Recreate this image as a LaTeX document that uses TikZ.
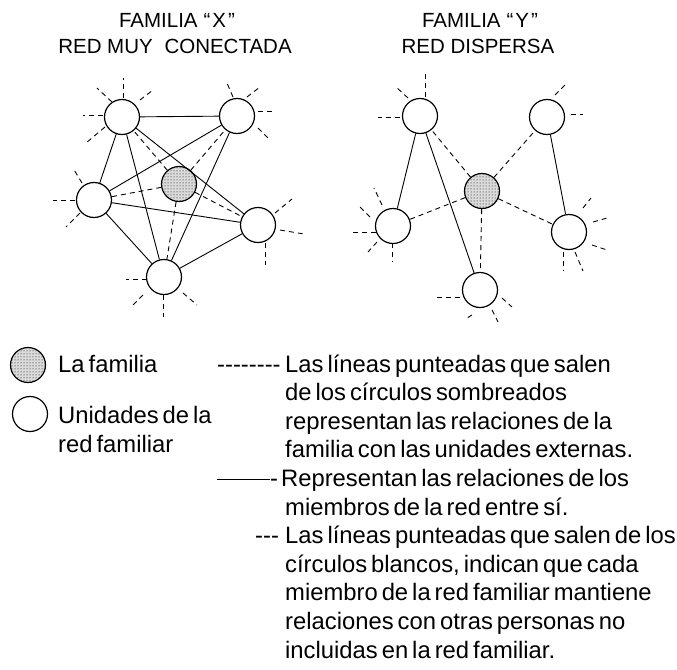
\documentclass[tikz,border=0pt]{standalone}
\usepackage{fontspec}
\setmainfont{Liberation Sans}[Ligatures=TeXOff]
\usetikzlibrary{calc,patterns}
\newcommand\legsize{\fontsize{23.8}{28.6}\selectfont\spaceskip=4pt plus 1pt minus 1pt\relax}
\newcommand\titsize{\fontsize{20.5}{24}\selectfont}
\newcommand\extstub[5]{\draw[extline] ($(#1)+(#2,#3)$) -- ($(#1)+(#4,#5)$);}
\begin{document}
\begin{tikzpicture}[x=1pt,y=-1pt,
  member/.style={circle,draw,line width=1.2pt,minimum size=35pt,inner sep=0pt},
  family/.style={circle,draw,line width=1.2pt,minimum size=35pt,inner sep=0pt,
    pattern=dots,pattern color=black,preaction={fill=gray!28}},
  tie/.style={line width=0.9pt},
  famline/.style={line width=0.9pt,dash pattern=on 5pt off 4pt},
  extline/.style={line width=0.9pt,dash pattern=on 5pt off 4pt},
  title/.style={font=\titsize,inner sep=0pt,anchor=base},
  leg/.style={font=\legsize,inner sep=0pt,anchor=base west}]
\useasboundingbox (0,0) rectangle (677,669);

% titles
\node[title] (tx1) at (177,28) {FAMILIA\hspace{6pt}“\kern2ptX\kern2pt”};
\node[title] (tx2) at (175,53) {RED MUY\hspace{6pt} CONECTADA};
\node[title] (ty1) at (480,28) {FAMILIA\hspace{6pt}“\kern2ptY\kern2pt”};
\node[title] (ty2) at (478,53) {RED DISPERSA};

% family X
\node[member] (xa) at (122,117) {};
\node[member] (xb) at (237,116) {};
\node[member] (xc) at (94,200) {};
\node[family] (xd) at (179,184) {};
\node[member] (xe) at (258,225) {};
\node[member] (xf) at (164,277) {};

\draw[tie] (xa) -- (xb);
\draw[tie] (xa) -- (xc);
\draw[tie] (xa) -- (xf);
\draw[tie] (xa) -- (xe);
\draw[tie] (xb) -- (xc);
\draw[tie] (xb) -- (xf);
\draw[tie] (xc) -- (xe);
\draw[tie] (xc) -- (xf);
\draw[tie] (xf) -- (xe);

\draw[famline] (xd) -- (xa);
\draw[famline] (xd) -- (xb);
\draw[famline] (xd) -- (xc);
\draw[famline] (xd) -- (xe);
\draw[famline] (xd) -- (xf);

\extstub{xa}{1}{-19}{1}{-39}
\extstub{xa}{-10}{-15}{-25}{-29}
\extstub{xa}{18}{-17}{31}{-27}
\extstub{xa}{-19}{-2}{-39}{-2}
\extstub{xa}{-17}{10}{-36}{26}

\extstub{xb}{-4}{-19}{-10}{-33}
\extstub{xb}{10}{-19}{23}{-29}
\extstub{xb}{21}{-5}{38}{-5}
\extstub{xb}{21}{12}{31}{22}

\extstub{xc}{-12}{-17}{-21}{-32}
\extstub{xc}{-19}{0}{-41}{0}
\extstub{xc}{-14}{13}{-28}{27}

\extstub{xe}{17}{-12}{34}{-26}
\extstub{xe}{22}{5}{46}{9}
\extstub{xe}{7}{18}{7}{40}

\extstub{xf}{-17}{2}{-38}{2}
\extstub{xf}{-21}{18}{-31}{28}
\extstub{xf}{-1}{18}{-1}{40}
\extstub{xf}{19}{16}{33}{28}

% family Y
\node[member] (ya) at (420,116) {};
\node[member] (yb) at (547,117) {};
\node[family] (yd) at (482,191) {};
\node[member] (yc) at (393,226) {};
\node[member] (ye) at (569,232) {};
\node[member] (yf) at (480,290) {};

\draw[tie] (ya) -- (yc);
\draw[tie] (ya) -- (yf);
\draw[tie] (yb) -- (ye);

\draw[famline] (yd) -- (ya);
\draw[famline] (yd) -- (yb);
\draw[famline] (yd) -- (yc);
\draw[famline] (yd) -- (ye);
\draw[famline] (yd) -- (yf);

\extstub{ya}{5}{-19}{5}{-43}
\extstub{ya}{-12}{-18}{-25}{-30}
\extstub{ya}{-20}{1}{-42}{1}

\extstub{yb}{8}{-22}{20}{-34}
\extstub{yb}{24}{-3}{36}{-3}

\extstub{yc}{-11}{-21}{-19}{-38}
\extstub{yc}{-23}{-9}{-33}{-19}
\extstub{yc}{-17}{6}{-41}{6}
\extstub{yc}{-16}{16}{-25}{26}
\extstub{yc}{-1}{17}{-1}{36}

\extstub{ye}{14}{-24}{22}{-34}
\extstub{ye}{24}{-10}{38}{-14}
\extstub{ye}{23}{13}{38}{18}
\extstub{ye}{-6}{20}{-6}{39}
\extstub{ye}{6}{20}{14}{39}

\extstub{yf}{-20}{7}{-43}{7}
\extstub{yf}{-8}{25}{-13}{28}
\extstub{yf}{12}{20}{18}{32}
\extstub{yf}{22}{8}{32}{17}

% legend
\node[family] (lfam) at (28,365) {};
\node[member] (lmem) at (30,414) {};
\node[leg] (l1) at (58,372) {La familia};
\node[leg] (l2) at (58,423) {Unidades de la};
\node[leg] (l3) at (58,452) {red familiar};

\node[leg] (d1) at (217,372) {--------};
\node[leg] (t1) at (285,372) {Las líneas punteadas que salen};
\node[leg] (t2) at (285,400.6) {de los círculos sombreados};
\node[leg] (t3) at (285,429.2) {representan las relaciones de la};
\node[leg] (t4) at (285,457.8) {familia con las unidades externas.};
\node[leg] (t5) at (217,486.4) {\rule[6.2pt]{53pt}{1.5pt}-\hspace{3pt}Representan las relaciones de los};
\node[leg] (t6) at (285,515) {miembros de la red entre sí.};
\node[leg] (d3) at (255,543.6) {---};
\node[leg] (t7) at (285,543.6) {Las líneas punteadas que salen de los};
\node[leg] (t8) at (285,572.2) {círculos blancos, indican que cada};
\node[leg] (t9) at (285,600.8) {miembro de la red familiar mantiene};
\node[leg] (t10) at (285,629.4) {relaciones con otras personas no};
\node[leg] (t11) at (285,658) {incluidas en la red familiar.};
\end{tikzpicture}
\end{document}
